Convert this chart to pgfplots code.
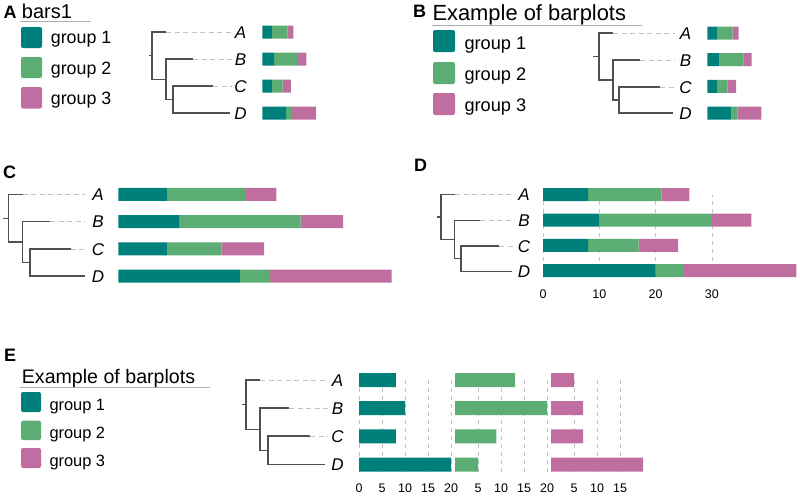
\documentclass[border=0pt]{standalone}
\usepackage{pgfplots}
\pgfplotsset{compat=1.18}
\usepackage{fontspec}
\setmainfont{Liberation Sans}
\definecolor{gA}{RGB}{0,128,122}
\definecolor{gB}{RGB}{91,173,115}
\definecolor{gC}{RGB}{192,110,160}
\definecolor{treec}{RGB}{80,80,80}
\definecolor{dashc}{RGB}{195,195,195}
\definecolor{ulc}{RGB}{175,175,175}
\pgfplotsset{
 baxbase/.style={scale only axis, anchor=north west, clip=false,
   axis line style={draw=none}, major tick length=0pt, ytick=\empty, xtick=\empty,
   /pgf/number format/assume math mode=true,
   xticklabel style={font=\fontsize{12.5}{12.5}\selectfont, anchor=base, yshift=-21pt},
   grid style={dashc, dash pattern=on 4pt off 4pt, line width=0.8pt}},
 barax/.style={baxbase, xbar stacked},
 sbarax/.style={baxbase, xbar, bar width=14pt, xmin=0, xmax=20,
   ymin=0.752, ymax=4, width=92pt, height=91.7pt, xmajorgrids},
 tl/.style={treec, line width=1.1pt},
 dl/.style={dashc, dash pattern=on 5pt off 3.5pt, line width=0.8pt},
}
\pgfplotstableread{
y g1 g2 g3
4 8 13 5
3 10 20 7
2 8 9 7
1 20 5 20
}\data
\begin{document}
\begin{tikzpicture}
\useasboundingbox (0pt,0pt) rectangle (800pt,-496pt);
% ---------- overlay: trees, labels, legends
\begin{axis}[scale only axis, at={(0pt,0pt)}, anchor=north west, width=800pt, height=496pt,
  xmin=0, xmax=800, ymin=0, ymax=496, y dir=reverse, hide axis, clip=false]
% Panel A tree
\addplot[tl] coordinates {(149,55.6) (152,55.6)};
\addplot[tl] coordinates {(166,32) (152,32) (152,79.25) (166,79.25)};
\addplot[tl] coordinates {(193,59) (166,59) (166,99.5) (173,99.5)};
\addplot[tl] coordinates {(213,86) (173,86) (173,113) (230,113)};
\addplot[dl] coordinates {(166,32) (232,32)};
\addplot[dl] coordinates {(193,59) (232,59)};
\addplot[dl] coordinates {(213,86) (232,86)};
% Panel B tree
\addplot[tl] coordinates {(593,56.5) (599,56.5)};
\addplot[tl] coordinates {(613,33) (599,33) (599,80) (613,80)};
\addplot[tl] coordinates {(640,60) (613,60) (613,100) (619,100)};
\addplot[tl] coordinates {(660,87) (619,87) (619,113) (673,113)};
\addplot[dl] coordinates {(613,33) (675,33)};
\addplot[dl] coordinates {(640,60) (675,60)};
\addplot[dl] coordinates {(660,87) (675,87)};
% Panel C tree
\addplot[tl] coordinates {(3,218.3) (8.3,218.3)};
\addplot[tl] coordinates {(22.7,194.5) (8.3,194.5) (8.3,242) (22.7,242)};
\addplot[tl] coordinates {(50,221.5) (22.7,221.5) (22.7,262.5) (30,262.5)};
\addplot[tl] coordinates {(70.7,249) (30,249) (30,276) (85,276)};
\addplot[dl] coordinates {(22.7,194.5) (85,194.5)};
\addplot[dl] coordinates {(50,221.5) (85,221.5)};
\addplot[dl] coordinates {(70.7,249) (85,249)};
% Panel D tree
\addplot[tl] coordinates {(437,217) (441,217)};
\addplot[tl] coordinates {(455,194.5) (441,194.5) (441,239.5) (454.5,239.5)};
\addplot[tl] coordinates {(480,220.3) (454.5,220.3) (454.5,258.6) (461,258.6)};
\addplot[tl] coordinates {(499,246) (461,246) (461,271.3) (512,271.3)};
\addplot[dl] coordinates {(455,194.5) (515,194.5)};
\addplot[dl] coordinates {(480,220.3) (515,220.3)};
\addplot[dl] coordinates {(499,246) (515,246)};
% Panel E tree
\addplot[tl] coordinates {(242,404.6) (246,404.6)};
\addplot[tl] coordinates {(260,380) (246,380) (246,429.2) (260,429.2)};
\addplot[tl] coordinates {(289,408) (260,408) (260,450.3) (268,450.3)};
\addplot[tl] coordinates {(310,436) (268,436) (268,464.7) (325,464.7)};
\addplot[dl] coordinates {(260,380) (328,380)};
\addplot[dl] coordinates {(289,408) (328,408)};
\addplot[dl] coordinates {(310,436) (328,436)};
% tip labels
\foreach \lx/\ys in {240.5/{32,59,86,113}, 685.5/{33,60,87,113}, 98/{194.5,221.5,249,276}, 524/{194.5,220.3,246,271.3}, 337.5/{380,408,436,464.7}}{
  \foreach \yy [count=\i] in \ys {
    \edef\tmp{\noexpand\node[anchor=base, inner sep=0pt, font=\noexpand\fontsize{17}{17}\noexpand\selectfont\noexpand\itshape] at (axis cs:\lx,\yy+6) {\ifcase\i\or A\or B\or C\or D\fi};}
    \tmp
  }
}
% panel letters
\node[anchor=base west, inner sep=0pt, font=\fontsize{18}{18}\selectfont\bfseries] at (axis cs:3.3,18.3) {A};
\node[anchor=base west, inner sep=0pt, font=\fontsize{18}{18}\selectfont\bfseries] at (axis cs:413,17.3) {B};
\node[anchor=base west, inner sep=0pt, font=\fontsize{18}{18}\selectfont\bfseries] at (axis cs:3,178.3) {C};
\node[anchor=base west, inner sep=0pt, font=\fontsize{18}{18}\selectfont\bfseries] at (axis cs:414,171.7) {D};
\node[anchor=base west, inner sep=0pt, font=\fontsize{18}{18}\selectfont\bfseries] at (axis cs:4,361.7) {E};
% legend A
\node[anchor=base west, inner sep=0pt, font=\fontsize{20}{20}\selectfont] at (axis cs:21.7,18.3) {bars1};
\draw[ulc, line width=1pt] (axis cs:20,21.7) -- (axis cs:91,21.7);
\fill[gA, rounded corners=2pt] (axis cs:21,27) rectangle (axis cs:42,48);
\fill[gB, rounded corners=2pt] (axis cs:21,57) rectangle (axis cs:42,78);
\fill[gC, rounded corners=2pt] (axis cs:21,87) rectangle (axis cs:42,108.5);
\node[anchor=base west, inner sep=0pt, font=\fontsize{17.8}{17.8}\selectfont] at (axis cs:50.7,43.5) {group 1};
\node[anchor=base west, inner sep=0pt, font=\fontsize{17.8}{17.8}\selectfont] at (axis cs:50.7,74) {group 2};
\node[anchor=base west, inner sep=0pt, font=\fontsize{17.8}{17.8}\selectfont] at (axis cs:50.7,104) {group 3};
% legend B
\node[anchor=base west, inner sep=0pt, font=\fontsize{21.9}{21.9}\selectfont] at (axis cs:432.3,20) {Example of barplots};
\draw[ulc, line width=1pt] (axis cs:432,25) -- (axis cs:642,25);
\fill[gA, rounded corners=2pt] (axis cs:433,30) rectangle (axis cs:455,52);
\fill[gB, rounded corners=2pt] (axis cs:433,62) rectangle (axis cs:455,84);
\fill[gC, rounded corners=2pt] (axis cs:433,93) rectangle (axis cs:455,115);
\node[anchor=base west, inner sep=0pt, font=\fontsize{18.2}{18.2}\selectfont] at (axis cs:464.3,49.3) {group 1};
\node[anchor=base west, inner sep=0pt, font=\fontsize{18.2}{18.2}\selectfont] at (axis cs:464.3,80) {group 2};
\node[anchor=base west, inner sep=0pt, font=\fontsize{18.2}{18.2}\selectfont] at (axis cs:464.3,111) {group 3};
% legend E
\node[anchor=base west, inner sep=0pt, font=\fontsize{19.6}{19.6}\selectfont] at (axis cs:21.7,383.3) {Example of barplots};
\draw[ulc, line width=1pt] (axis cs:20,387.7) -- (axis cs:210,387.7);
\fill[gA, rounded corners=2pt] (axis cs:21,392) rectangle (axis cs:41,412);
\fill[gB, rounded corners=2pt] (axis cs:21,420.7) rectangle (axis cs:41,440);
\fill[gC, rounded corners=2pt] (axis cs:21,448) rectangle (axis cs:41,468);
\node[anchor=base west, inner sep=0pt, font=\fontsize{16.4}{16.4}\selectfont] at (axis cs:49.3,410) {group 1};
\node[anchor=base west, inner sep=0pt, font=\fontsize{16.4}{16.4}\selectfont] at (axis cs:49.3,438.3) {group 2};
\node[anchor=base west, inner sep=0pt, font=\fontsize{16.4}{16.4}\selectfont] at (axis cs:49.3,466) {group 3};
\end{axis}
% ---------- Panel A bars
\begin{axis}[barax, at={(262.3pt,-18.5pt)}, width=53.7pt, height=108pt, xmin=0, xmax=45, ymin=0.5, ymax=4.5, bar width=13pt]
\addplot[fill=gA, draw=none] table[x=g1, y=y] {\data};
\addplot[fill=gB, draw=none] table[x=g2, y=y] {\data};
\addplot[fill=gC, draw=none] table[x=g3, y=y] {\data};
\end{axis}
% ---------- Panel B bars
\begin{axis}[barax, at={(707.3pt,-19.67pt)}, width=54pt, height=106.67pt, xmin=0, xmax=45, ymin=0.5, ymax=4.5, bar width=13pt]
\addplot[fill=gA, draw=none] table[x=g1, y=y] {\data};
\addplot[fill=gB, draw=none] table[x=g2, y=y] {\data};
\addplot[fill=gC, draw=none] table[x=g3, y=y] {\data};
\end{axis}
% ---------- Panel C bars
\begin{axis}[barax, at={(118.3pt,-180.9pt)}, width=273.4pt, height=108.7pt, xmin=0, xmax=45, ymin=0.5, ymax=4.5, bar width=13pt]
\addplot[fill=gA, draw=none] table[x=g1, y=y] {\data};
\addplot[fill=gB, draw=none] table[x=g2, y=y] {\data};
\addplot[fill=gC, draw=none] table[x=g3, y=y] {\data};
\end{axis}
% ---------- Panel D bars
\begin{axis}[barax, at={(543pt,-194.7pt)}, width=253.4pt, height=82.5pt, xmin=0, xmax=45, ymin=0.743, ymax=4, bar width=13pt,
  xtick={0,10,20,30}, xmajorgrids]
\addplot[fill=gA, draw=none] table[x=g1, y=y] {\data};
\addplot[fill=gB, draw=none] table[x=g2, y=y] {\data};
\addplot[fill=gC, draw=none] table[x=g3, y=y] {\data};
\end{axis}
% ---------- Panel E bars
\begin{axis}[sbarax, at={(359pt,-380pt)}, xtick={0,5,10,15,20}]
\addplot[fill=gA, draw=none] table[x=g1, y=y] {\data};
\end{axis}
\begin{axis}[sbarax, at={(455pt,-380pt)}, xtick={5,10,15,20}]
\addplot[fill=gB, draw=none] table[x=g2, y=y] {\data};
\end{axis}
\begin{axis}[sbarax, at={(551pt,-380pt)}, xtick={5,10,15}]
\addplot[fill=gC, draw=none] table[x=g3, y=y] {\data};
\end{axis}
\end{tikzpicture}
\end{document}
